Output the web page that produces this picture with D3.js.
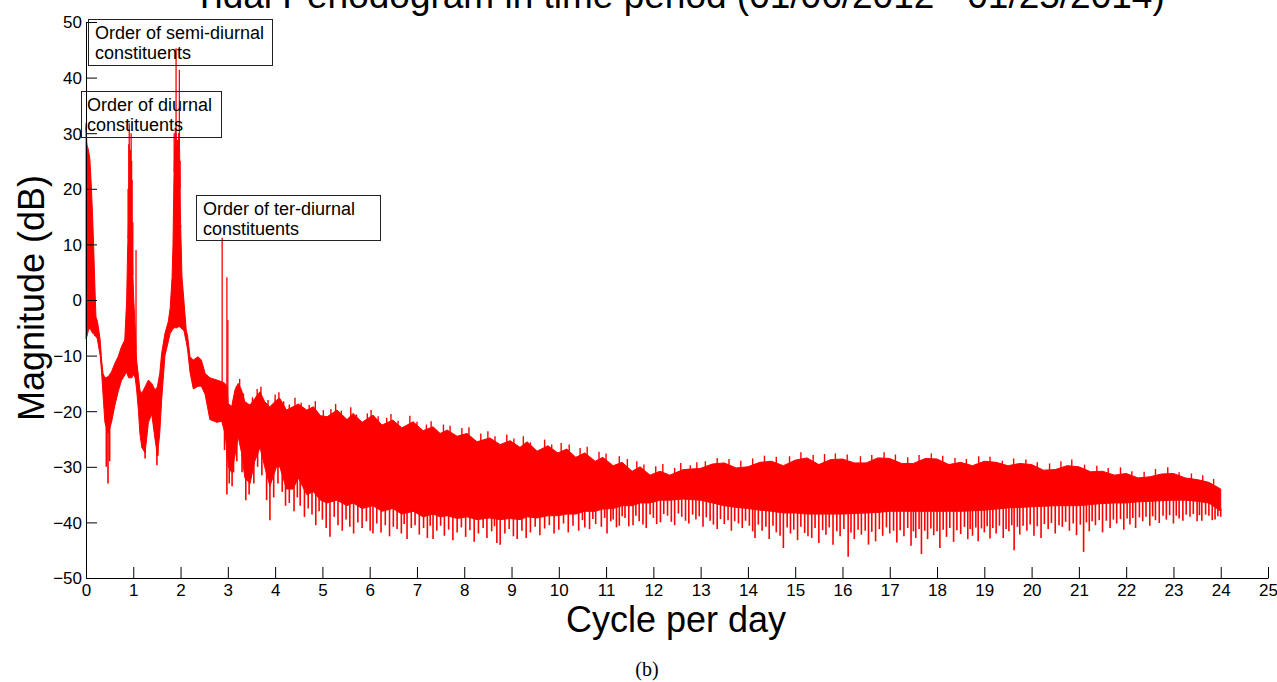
<!DOCTYPE html>
<html><head><meta charset="utf-8">
<script src="https://cdn.jsdelivr.net/npm/d3@7"></script>
<style>body{margin:0;background:#fff}svg{display:block}</style>
</head><body><svg id="c" width="1277" height="682"></svg>
<script>
// ---------- DATA ----------
const titleText = "Tidal Periodogram in time period (01/06/2012 - 01/25/2014)";
const xLabelText = "Cycle per day";
const yLabelText = "Magnitude (dB)";
const captionText = "(b)";
const xTicks = [0,1,2,3,4,5,6,7,8,9,10,11,12,13,14,15,16,17,18,19,20,21,22,23,24,25];
const yTicks = [-50,-40,-30,-20,-10,0,10,20,30,40,50];

// envelope of the dense periodogram trace (cycles per day, dB)
const envFreq = [0.00,0.02,0.05,0.08,0.11,0.14,0.16,0.19,0.21,0.24,0.26,0.30,0.33,0.36,0.40,0.47,0.54,0.61,0.68,0.75,0.82,0.86,0.88,0.90,0.93,0.95,0.97,0.99,1.01,1.04,1.07,1.11,1.14,1.18,1.25,1.32,1.39,1.46,1.51,1.56,1.60,1.67,1.74,1.78,1.82,1.84,1.86,1.88,1.90,1.93,1.96,1.98,2.00,2.03,2.07,2.12,2.15,2.20,2.27,2.37,2.44,2.52,2.62,2.77,2.87,2.94,2.98,3.01,3.08,3.15,3.22,3.29,3.36,3.47,3.57,3.68,3.78,3.89,4.03,4.10,4.24,4.38,4.49,4.67,4.81,4.96,5.10,5.31,5.52,5.65,5.84,6.07,6.26,6.49,6.68,6.92,7.13,7.34,7.49,7.64,7.85,8.06,8.27,8.54,8.76,8.97,9.18,9.33,9.54,9.77,9.98,10.17,10.36,10.55,10.77,10.93,11.15,11.34,11.55,11.72,11.93,12.14,12.35,12.63,12.99,13.25,13.50,13.75,14.00,14.25,14.50,14.75,15.00,15.25,15.50,15.75,16.00,16.25,16.50,16.75,17.00,17.25,17.50,17.75,18.00,18.25,18.50,18.75,19.00,19.25,19.50,19.75,20.00,20.25,20.50,20.75,21.00,21.25,21.50,21.75,22.00,22.25,22.50,22.75,23.00,23.25,23.50,23.75,24.00];
const envUpper = [31,28,27,25.5,21,15,10,2,-3,-3.8,-4.8,-7.2,-10.8,-13.2,-14,-13.8,-12.9,-11.4,-10.2,-8.4,-7.2,0,9,14,12,14,12,5,0,-5,-10.8,-13.8,-16.2,-16.8,-15.6,-14.4,-15,-16.2,-15.6,-13.2,-9.6,-6,-3.9,-1.5,4,10,22,28,30,27,29,27,14,4.2,0,-5.4,-6.5,-10.2,-10.8,-10.2,-10.8,-13.2,-14,-14.4,-14.7,-15,-15.6,-18.6,-19.2,-16.2,-15,-16.2,-18.3,-18.9,-17.7,-16.5,-18.3,-19.2,-18,-17.7,-19.8,-19.2,-18.7,-19.8,-19.2,-20.8,-21,-19.8,-21.5,-20.4,-22,-20.7,-22.5,-21.6,-23,-21.9,-23.5,-22.8,-24,-23.4,-24.5,-24,-25.5,-24.8,-26,-25.3,-26.5,-25.5,-27.2,-26.2,-27.5,-26.8,-28.3,-27.5,-29,-28.3,-29.8,-29.2,-30.8,-30,-31.5,-30.8,-31.5,-30.5,-30.3,-29.5,-29.3,-30.2,-30,-29.2,-29,-29.8,-28.8,-28.4,-29.6,-28.7,-28.6,-29.3,-29.3,-28.4,-28.5,-29.4,-29.4,-28.5,-28.6,-29.6,-29.2,-29.8,-29,-29.2,-29.8,-29.4,-29.6,-30.6,-30.5,-29.8,-30,-30.9,-30.8,-31.5,-31.2,-32,-31.8,-31.3,-31.2,-32,-32.3,-32.8,-34];
const envLower = [-7,-6.5,-5.5,-5,-5.5,-6,-6,-6.5,-6.5,-7,-8,-10,-13,-17,-22,-24,-22,-19,-16.5,-14.5,-13.5,-13,-13.5,-14,-14,-14,-14,-13.5,-13.5,-14,-16,-20,-24,-26.5,-27.5,-22,-20.5,-25,-28,-24,-18,-10,-7.5,-6,-5.5,-5.2,-5,-5,-5,-5,-4.8,-4.8,-5,-5.2,-5.5,-7.5,-9,-13,-16,-15.5,-15.5,-17,-21.5,-22,-21.8,-24,-27,-30,-31,-28,-24.6,-27.5,-32,-33,-29,-26.5,-30,-33.5,-30,-30,-34,-34,-32,-35,-34.5,-36,-36.5,-36,-37,-36.5,-37.5,-37,-38,-37.5,-38.5,-38,-39,-38.5,-39,-38.8,-39.3,-39,-39.5,-39.2,-39.5,-39.3,-39.5,-39,-39.2,-38.8,-38.8,-38.5,-38.5,-38,-38,-37.6,-37.5,-37,-37,-36.5,-36.5,-36,-36,-35.8,-36,-36.5,-37,-37.3,-37.5,-37.8,-38,-38.3,-38.3,-38.5,-38.5,-38.5,-38.5,-38.4,-38.3,-38.2,-38,-38,-38,-38,-38,-38,-38,-37.9,-37.8,-37.6,-37.4,-37.3,-37.2,-37.1,-37,-37,-37,-36.8,-36.6,-36.5,-36.5,-36.3,-36.2,-36.1,-36,-36,-36.2,-36.5,-38];

// narrow upward spikes: tidal constituents and other peaks [cpd, dB]
const peaks = [[0.00,31.8],[0.89,20],[0.905,28],[0.915,31.8],[0.93,22],[0.94,27],[0.955,30],[0.965,25],[0.975,21.6],[0.99,14],[1.058,9],
  [1.865,30],[1.89,31],[1.905,45.3],[1.935,28.8],[1.96,30],[1.975,41.4],[1.99,25],[2.00,13],
  [2.88,11.2],[2.98,4.1],[3.00,-3.6]];

// small upward fuzz on the top of the noise band [cpd, dB]
const topFuzz = [[3.18,-15.5],[3.25,-14.2],[3.33,-16.8],[3.52,-17.5],[3.62,-16],[3.70,-15.6],[3.85,-18],[4.00,-17],[4.08,-16.6],[4.18,-18.2],[4.30,-18.8],[4.42,-17.6],[4.55,-18.5],[4.72,-18.9],[4.85,-18.2],[5.02,-19.8],[5.18,-19.6],[5.28,-18.7],[5.40,-19.9],[5.60,-19.3],[5.72,-20.6],[5.95,-20.4],[6.03,-19.8],[6.18,-20.9],[6.36,-21.2],[6.45,-20.5],[6.60,-21.7],[6.85,-20.8],[7.00,-21.9],[7.20,-22.4],[7.30,-21.8],[7.56,-22.4],[7.70,-22.6],[7.95,-23],[8.10,-22.9],[8.35,-24],[8.50,-23.6],[8.65,-24.5],[8.90,-24.2],[9.05,-24.9],[9.25,-24.5],[9.40,-25.6],[9.70,-25.1],[9.85,-26],[10.05,-25.7],[10.22,-26],[10.45,-26.6],[10.60,-26.4],[10.85,-27.3],[11.00,-27.6],[11.28,-28.1],[11.45,-28.6],[11.65,-29],[11.80,-29.6],[12.05,-29.9],[12.20,-29.5],[12.45,-30.2],[12.58,-29.3],[12.78,-29.7],[12.92,-29.2],[13.10,-29],[13.35,-28.4],[13.60,-28.6],[13.85,-28.9],[14.10,-28.5],[14.35,-28],[14.60,-28.2],[14.88,-28.1],[15.12,-27.4],[15.38,-27.9],[15.62,-27.7],[15.85,-27.6],[16.10,-27.8],[16.38,-28.1],[16.62,-27.9],[16.88,-27.4],[17.12,-27.8],[17.38,-28.3],[17.62,-27.9],[17.88,-27.6],[18.12,-28],[18.38,-28.4],[18.62,-28.6],[18.88,-28.1],[19.12,-28.2],[19.38,-28.9],[19.62,-28.5],[19.88,-28.7],[20.12,-29.2],[20.38,-29.4],[20.62,-29],[20.85,-28.7],[21.12,-29.6],[21.38,-29.8],[21.62,-30.2],[21.88,-30.1],[22.12,-30.8],[22.38,-30.9],[22.62,-30.4],[22.88,-30.1],[23.12,-31],[23.38,-31.2],[23.62,-31.5],[23.85,-32.2]];

// narrow downward spikes below the dense band [cpd, dB]
const dips = [[0.43,-30],[0.465,-33],[0.50,-29],[1.25,-28.5],[1.50,-29.7],[1.52,-28],[2.93,-27],[2.98,-35],[3.09,-33.5],
  [3.03,-33],[3.12,-31],[3.19,-29],[3.30,-31],[3.38,-36],[3.45,-35],[3.55,-33],[3.63,-30],[3.72,-31.5],[3.82,-36],[3.89,-39.6],[3.97,-35.5],
  [4.06,-33],[4.15,-34.5],[4.22,-37],[4.30,-36.5],[4.40,-38],[4.47,-35.5],[4.53,-37],[4.62,-39],[4.70,-37.5],[4.78,-38.6],[4.86,-40.5],[4.93,-38],
  [5.00,-39.5],[5.08,-41],[5.16,-42.6],[5.25,-39],[5.33,-40.5],[5.42,-41.5],[5.50,-39.5],[5.58,-40.8],[5.66,-42],[5.75,-40],[5.84,-41],[5.93,-39.8],
  [6.01,-41.5],[6.07,-42],[6.15,-40.2],[6.24,-41.8],[6.33,-40.5],[6.42,-42.5],[6.50,-40.8],[6.58,-41.2],[6.67,-42],[6.73,-40.3],[6.79,-43],[6.88,-41],[6.96,-40.5],
  [7.05,-42.2],[7.14,-41],[7.22,-42.8],[7.28,-40.6],[7.34,-43],[7.42,-41.5],[7.50,-40.6],[7.58,-42.4],[7.67,-41.3],[7.76,-43.2],[7.85,-41.8],[7.94,-40.9],
  [8.03,-42.6],[8.12,-41.4],[8.21,-43.5],[8.30,-42],[8.40,-41],[8.48,-42.8],[8.58,-41.6],[8.64,-40.7],[8.69,-43.7],[8.76,-44],[8.86,-42],[8.95,-41.2],
  [9.04,-42.5],[9.12,-43],[9.22,-41.5],[9.31,-42.8],[9.40,-41.8],[9.50,-40.8],[9.60,-42.3],[9.70,-41.1],[9.80,-40.5],[9.90,-42],
  [10.00,-41.3],[10.10,-40.2],[10.20,-41.8],[10.30,-40.6],[10.42,-41.5],[10.50,-39.6],[10.55,-40.9],[10.65,-41.2],[10.72,-39.4],[10.78,-40.3],[10.90,-40.8],[10.97,-39.2],
  [11.02,-42],[11.10,-39.8],[11.15,-39.5],[11.22,-40.9],[11.28,-40.6],[11.34,-38.9],[11.40,-39.2],[11.48,-40.7],[11.57,-40.5],[11.63,-38.8],[11.70,-39.8],[11.78,-40.4],[11.85,-41],[11.93,-38.6],
  [12.00,-39.2],[12.07,-40.3],[12.15,-40],[12.22,-38.5],[12.30,-38.8],[12.38,-39.9],[12.45,-40.5],[12.53,-38.4],[12.60,-39],[12.68,-39.7],[12.75,-40.2],[12.83,-38.6],[12.90,-39.5],[12.97,-38.9],
  [13.05,-40.8],[13.12,-39.1],[13.20,-39.7],[13.27,-40.4],[13.35,-41.2],[13.42,-39.4],[13.50,-40.3],[13.58,-39.6],[13.65,-41.5],[13.72,-39.8],[13.80,-40.2],[13.88,-41],[13.95,-39.7],
  [14.03,-40.6],[14.10,-41.6],[14.15,-42.8],[14.22,-40.4],[14.30,-41.5],[14.38,-40.8],[14.45,-43],[14.53,-40.6],[14.60,-41.8],[14.68,-42.4],[14.75,-44.6],[14.83,-40.9],[14.90,-42],[14.97,-41.3],
  [15.05,-43.2],[15.12,-40.8],[15.20,-41.9],[15.27,-42.5],[15.35,-42.8],[15.42,-41],[15.50,-43.7],[15.58,-41.4],[15.65,-42.2],[15.72,-40.9],[15.80,-44],[15.88,-41.6],[15.95,-42.5],
  [16.03,-41.2],[16.12,-46.2],[16.18,-41.8],[16.25,-43],[16.33,-41.3],[16.40,-42.2],[16.48,-41.5],[16.55,-44],[16.62,-41.7],[16.70,-43.4],[16.78,-41.2],[16.85,-42.4],[16.93,-40.9],
  [17.00,-42],[17.08,-41.5],[17.15,-43.6],[17.22,-41.4],[17.30,-42.5],[17.38,-41],[17.45,-44.2],[17.50,-41.6],[17.55,-42.8],[17.62,-41.2],[17.67,-45.7],[17.74,-41.5],[17.80,-43],[17.87,-41.1],[17.93,-42.3],
  [18.00,-41.6],[18.06,-44.6],[18.13,-41.3],[18.20,-42.6],[18.27,-41],[18.35,-43.5],[18.42,-41.4],[18.50,-42.1],[18.58,-40.8],[18.65,-43],[18.70,-41.2],[18.75,-42.4],[18.82,-40.9],[18.87,-43.4],[18.94,-41.1],
  [19.00,-41.8],[19.06,-40.7],[19.12,-42.9],[19.18,-41],[19.25,-42],[19.32,-40.6],[19.40,-42.8],[19.46,-41.2],[19.52,-41.6],[19.58,-40.5],[19.63,-45],[19.70,-40.8],[19.75,-42.2],[19.82,-40.6],[19.90,-41.5],[19.97,-40.4],
  [20.05,-42.4],[20.12,-40.7],[20.20,-42.8],[20.27,-40.3],[20.35,-41.2],[20.42,-40.1],[20.50,-42],[20.58,-40.5],[20.65,-40.8],[20.72,-39.9],[20.80,-41.5],[20.88,-40.2],[20.95,-42.3],
  [21.03,-40.4],[21.10,-45.3],[21.16,-40],[21.22,-41.6],[21.28,-39.8],[21.35,-40.5],[21.43,-39.6],[21.50,-41.8],[21.58,-39.7],[21.66,-41],[21.73,-39.5],[21.80,-40.2],[21.88,-39.4],[21.95,-41.3],
  [22.02,-39.3],[22.08,-40.4],[22.14,-39.2],[22.20,-41],[22.28,-39.1],[22.35,-39.8],[22.42,-39],[22.50,-40.6],[22.56,-38.9],[22.62,-39.6],[22.70,-40.1],[22.78,-38.8],[22.85,-39.5],[22.92,-38.7],
  [23.00,-40.2],[23.06,-38.8],[23.12,-39.3],[23.20,-39.7],[23.27,-38.6],[23.35,-39],[23.42,-38.5],[23.50,-39.8],[23.55,-38.7],[23.60,-39.7],[23.68,-38.6],[23.75,-38.8],[23.82,-39.6],[23.88,-39.5],[23.94,-38.9],[24.00,-39]];

const noteLines = [
  ["Order of semi-diurnal", "constituents"],
  ["Order of diurnal", "constituents"],
  ["Order of ter-diurnal", "constituents"]
];

// ---------- DRAW ----------
const svg = d3.select("#c");
const FONT = "'Liberation Sans', Arial, Helvetica, sans-serif";
svg.append("rect").attr("width",1277).attr("height",682).attr("fill","#fff");

const x = d3.scaleLinear().domain([0,25]).range([86,1268]);
const y = d3.scaleLinear().domain([-50,50]).range([578,22]);

const env = envFreq.map((f,i)=>({f, u:envUpper[i], l:envLower[i]}));
const upAt = d3.scaleLinear().domain(envFreq).range(envUpper);
const loAt = d3.scaleLinear().domain(envFreq).range(envLower);

const plot = svg.append("g");
plot.append("path").datum(env)
  .attr("d", d3.area().x(d=>x(d.f)).y0(d=>y(d.l)).y1(d=>y(d.u)))
  .attr("fill","#ff0000").attr("stroke","#ff0000").attr("stroke-width",1);

plot.selectAll("line.dip").data(dips)
  .join("line").attr("class","dip")
  .attr("x1",d=>x(d[0])).attr("x2",d=>x(d[0]))
  .attr("y1",d=>y(loAt(d[0])+0.5)).attr("y2",d=>y(d[1]))
  .attr("stroke","#ff0000").attr("stroke-width",1.6);

plot.selectAll("line.fz").data(topFuzz)
  .join("line").attr("class","fz")
  .attr("x1",d=>x(d[0])).attr("x2",d=>x(d[0]))
  .attr("y1",d=>y(upAt(d[0])-0.5)).attr("y2",d=>y(d[1]))
  .attr("stroke","#ff0000").attr("stroke-width",1.4);

plot.selectAll("line.pk").data(peaks)
  .join("line").attr("class","pk")
  .attr("x1",d=>x(d[0])).attr("x2",d=>x(d[0]))
  .attr("y1",d=>y(upAt(d[0])-0.5)).attr("y2",d=>y(d[1]))
  .attr("stroke","#ff0000").attr("stroke-width",1.3);

// axes
const gx = svg.append("g").attr("transform","translate(0,578)")
  .call(d3.axisBottom(x).tickValues(xTicks).tickFormat(d3.format("d")).tickSizeInner(-11).tickSizeOuter(0).tickPadding(6));
const gy = svg.append("g").attr("transform","translate(86,0)")
  .call(d3.axisLeft(y).tickValues(yTicks).tickFormat(d3.format("d")).tickSizeInner(-11).tickSizeOuter(0).tickPadding(4));
[gx,gy].forEach(g=>{
  g.selectAll("path,line").attr("stroke","#000");
  g.selectAll("text").attr("fill","#000").style("font-family",FONT).style("font-size","17px");
});
gy.selectAll("text").attr("dy","0.35em");

// annotation boxes
const boxes = [
  {x0:88, y0:19, x1:272, y1:65, tx:95, ty:39},
  {x0:81, y0:91, x1:221, y1:137, tx:87, ty:111},
  {x0:196, y0:195, x1:380, y1:240, tx:203, ty:215}
];
boxes.forEach((b,i)=>{
  svg.append("rect").attr("x",b.x0+0.5).attr("y",b.y0+0.5)
    .attr("width",b.x1-b.x0).attr("height",b.y1-b.y0)
    .attr("fill","none").attr("stroke","#222").attr("stroke-width",1);
  noteLines[i].forEach((t,j)=>{
    svg.append("text").attr("x",b.tx).attr("y",b.ty+j*19.5)
      .style("font-family",FONT).style("font-size","18px").attr("fill","#000").text(t);
  });
});

// title and labels
svg.append("text").attr("x",679).attr("y",8).attr("text-anchor","middle")
  .style("font-family",FONT).style("font-size","37px").attr("fill","#000").text(titleText);
svg.append("text").attr("x",676).attr("y",632).attr("text-anchor","middle")
  .style("font-family",FONT).style("font-size","36px").attr("fill","#000").text(xLabelText);
svg.append("text").attr("transform","translate(44,298) rotate(-90)").attr("text-anchor","middle")
  .style("font-family",FONT).style("font-size","36px").attr("fill","#000").text(yLabelText);
svg.append("text").attr("x",647).attr("y",676).attr("text-anchor","middle")
  .style("font-family","'Liberation Serif','Times New Roman',serif").style("font-size","20px").attr("fill","#000").text(captionText);
</script>
</body></html>
